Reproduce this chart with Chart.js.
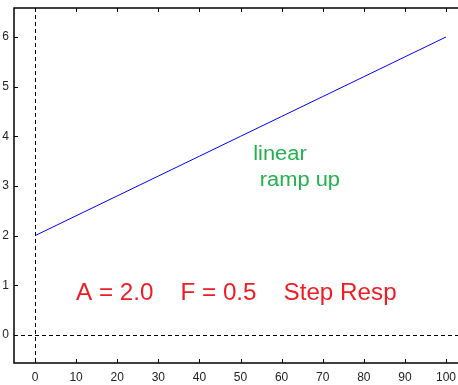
<!DOCTYPE html>
<html>
<head>
<meta charset="utf-8">
<script src="https://cdn.jsdelivr.net/npm/chart.js@4"></script>
<style>
  html, body { margin: 0; padding: 0; background: #fff; }
  canvas { display: block; }
</style>
</head>
<body>
<canvas id="myChart" width="458" height="385"></canvas>
<script>
"use strict";

const ctx = document.getElementById("myChart");

// ramp samples
const timeSteps = [0, 10, 20, 30, 40, 50, 60, 70, 80, 90, 100];
const response = [2.0, 2.4, 2.8, 3.2, 3.6, 4.0, 4.4, 4.8, 5.2, 5.6, 6.0];

const xTicks = [0, 10, 20, 30, 40, 50, 60, 70, 80, 90, 100];
const yTicks = [0, 1, 2, 3, 4, 5, 6];

const lineBlue = "rgb(0, 0, 255)";
const labelGreen = "rgb(34, 177, 76)";
const labelRed = "rgb(240, 28, 36)";
const axisColor = "#000";
const fontFamily = "'Liberation Sans', Arial, sans-serif";

// text notes: [text, x, y, colour, size, horizontal stretch]
const notes = [
  ["linear", 53.1, 3.52, labelGreen, 19.5, 1.12],
  ["ramp up", 54.7, 3.0, labelGreen, 19.5, 1.12],
  ["A = 2.0    F = 0.5    Step Resp", 10, 0.705, labelRed, 23.3, 1.04],
];

const framePlugin = {
  id: "frame",
  beforeDatasetsDraw(chart) {
    const { ctx, chartArea: a, scales: { x, y } } = chart;
    ctx.save();
    // dashed zero lines
    ctx.strokeStyle = axisColor;
    ctx.lineWidth = 1;
    ctx.setLineDash([4, 3]);
    const x0 = Math.round(x.getPixelForValue(0)) + 0.5;
    const y0 = Math.round(y.getPixelForValue(0)) + 0.5;
    ctx.beginPath();
    ctx.moveTo(x0, a.top);
    ctx.lineTo(x0, a.bottom);
    ctx.moveTo(a.left, y0);
    ctx.lineTo(a.right, y0);
    ctx.stroke();
    ctx.restore();
  },
  afterDatasetsDraw(chart) {
    const { ctx, chartArea: a, scales: { x, y } } = chart;
    ctx.save();
    ctx.strokeStyle = axisColor;
    ctx.lineWidth = 1.5;
    ctx.beginPath();
    ctx.moveTo(a.right, a.top);
    ctx.lineTo(a.left, a.top);
    ctx.lineTo(a.left, a.bottom);
    ctx.lineTo(a.right, a.bottom);
    ctx.stroke();

    // inward tick marks
    ctx.lineWidth = 1;
    ctx.beginPath();
    xTicks.forEach((v) => {
      const px = Math.round(x.getPixelForValue(v)) + 0.5;
      ctx.moveTo(px, a.bottom);
      ctx.lineTo(px, a.bottom - 4);
      ctx.moveTo(px, a.top);
      ctx.lineTo(px, a.top + 4);
    });
    yTicks.forEach((v) => {
      const py = Math.round(y.getPixelForValue(v)) + 0.5;
      ctx.moveTo(a.left, py);
      ctx.lineTo(a.left + 4, py);
    });
    ctx.stroke();

    ctx.textAlign = "left";
    ctx.textBaseline = "alphabetic";
    notes.forEach(([text, nx, ny, color, size, stretch]) => {
      ctx.save();
      ctx.translate(x.getPixelForValue(nx), y.getPixelForValue(ny));
      ctx.scale(stretch, 1);
      ctx.fillStyle = color;
      ctx.font = `${size}px ${fontFamily}`;
      ctx.fillText(text, 0, 0);
      ctx.restore();
    });
    ctx.restore();
  },
};

const data = {
  datasets: [
    {
      data: timeSteps.map((t, i) => ({ x: t, y: response[i] })),
      borderColor: lineBlue,
      borderWidth: 1,
      pointRadius: 0,
      tension: 0,
      fill: false,
    },
  ],
};

const config = {
  type: "line",
  data: data,
  options: {
    responsive: false,
    animation: false,
    layout: {
      padding: { top: 8, right: 0, left: 0, bottom: 0 },
    },
    scales: {
      x: {
        type: "linear",
        min: -5.11,
        max: 102.92,
        afterBuildTicks: (axis) => {
          axis.ticks = xTicks.map((v) => ({ value: v }));
        },
        afterFit: (axis) => {
          axis.height = 22;
          axis.paddingLeft = 0;
          axis.paddingRight = 0;
        },
        grid: { display: false, drawTicks: false },
        border: { display: false },
        ticks: {
          padding: 7,
          color: "#222",
          font: { family: fontFamily, size: 12 },
          maxRotation: 0,
          autoSkip: false,
        },
      },
      y: {
        type: "linear",
        min: -0.564,
        max: 6.584,
        afterBuildTicks: (axis) => {
          axis.ticks = yTicks.map((v) => ({ value: v }));
        },
        afterFit: (axis) => {
          axis.width = 14;
          axis.paddingTop = 0;
          axis.paddingBottom = 0;
        },
        grid: { display: false, drawTicks: false },
        border: { display: false },
        ticks: {
          padding: 5,
          color: "#222",
          font: { family: fontFamily, size: 12 },
        },
      },
    },
    plugins: {
      legend: { display: false },
      tooltip: { enabled: false },
    },
  },
  plugins: [framePlugin],
};

new Chart(ctx, config);
</script>
</body>
</html>
